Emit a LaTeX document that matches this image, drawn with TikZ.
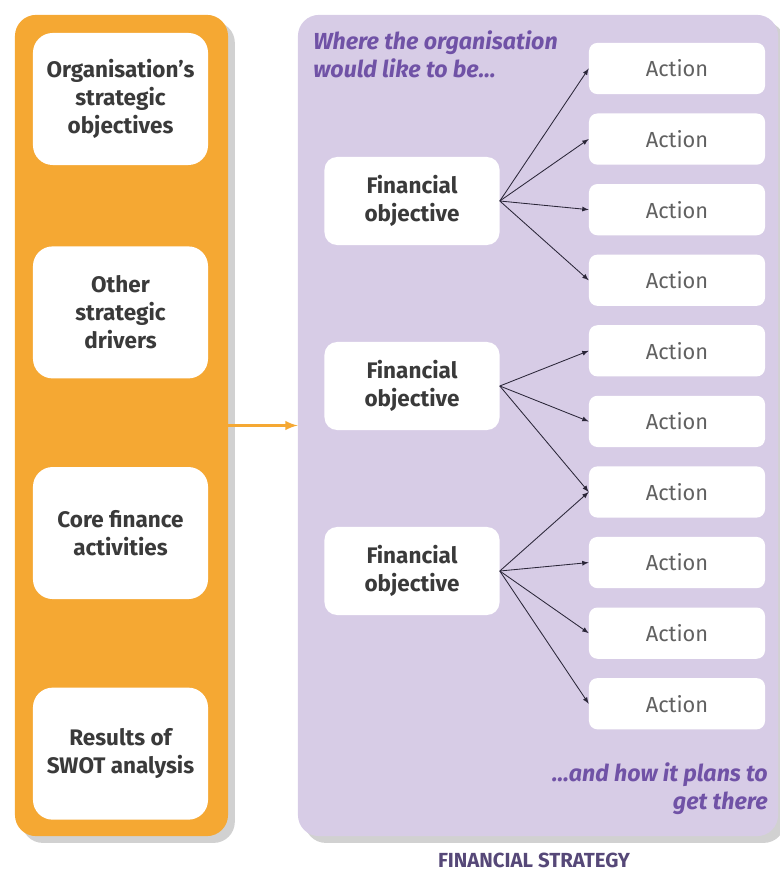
\documentclass[tikz,border=0pt]{standalone}
\usepackage{fontspec}
\setmainfont{Fira Sans}
\usetikzlibrary{positioning,shadows}

\definecolor{panelorange}{HTML}{F5A833}
\definecolor{panelpurple}{HTML}{D7CCE6}
\definecolor{notepurple}{HTML}{7052A6}
\definecolor{textgrey}{HTML}{3A3A3A}
\definecolor{linkgrey}{HTML}{2A2638}
\definecolor{titlepurple}{HTML}{564878}

\begin{document}
\begin{tikzpicture}[x=0.025cm,y=-0.025cm,
  panel/.style={inner sep=0pt,rounded corners=15pt,
    drop shadow={shadow xshift=0.17cm,shadow yshift=-0.17cm,opacity=0.18,fill=black}},
  inputbox/.style={fill=white,rounded corners=14pt,minimum width=4.375cm,minimum height=3.3cm,
    align=center,text=textgrey,font=\fontsize{16pt}{20pt}\selectfont\bfseries},
  objbox/.style={fill=white,rounded corners=9pt,minimum width=4.375cm,minimum height=2.2cm,
    align=center,text=textgrey,font=\fontsize{16pt}{20pt}\selectfont\bfseries},
  actbox/.style={fill=white,rounded corners=6pt,minimum width=4.4cm,minimum height=1.28cm,
    text=textgrey!80,font=\fontsize{15.5pt}{20pt}\selectfont},
  note/.style={text=notepurple,font=\fontsize{16.5pt}{20pt}\selectfont\bfseries\itshape,inner sep=0pt},
  link/.style={-latex,linkgrey,line width=0.6pt}]

  \useasboundingbox (0,0) rectangle (780,872);

  % the two panels
  \node[panel,fill=panelorange,minimum width=5.325cm,minimum height=20.525cm] (inputs) at (121.5,425.5) {};
  \node[panel,fill=panelpurple,minimum width=12cm,minimum height=20.525cm] (strategy) at (538,425.5) {};
  \draw[-latex,panelorange,line width=2pt] (inputs.east) -- (strategy.west);

  % inputs
  \node[inputbox] (orgobj) at (120.5,99) {Organisation’s\\strategic\\objectives};
  \node[inputbox,below=2.02cm of orgobj] (drivers) {Other\\strategic\\drivers};
  \node[inputbox,below=2.2cm of drivers] (core) {Core finance\\activities};
  \node[inputbox,below=2.2cm of core] (swot) {Results of\\SWOT analysis};

  % objectives
  \node[objbox] (obj1) at (412,201) {Financial\\objective};
  \node[objbox] (obj2) at (412,386) {Financial\\objective};
  \node[objbox] (obj3) at (412,571) {Financial\\objective};

  % actions
  \node[actbox] (act1) at (677,68.5) {Action};
  \node[actbox,below=0.47cm of act1] (act2) {Action};
  \node[actbox,below=0.47cm of act2] (act3) {Action};
  \node[actbox,below=0.47cm of act3] (act4) {Action};
  \node[actbox,below=0.47cm of act4] (act5) {Action};
  \node[actbox,below=0.47cm of act5] (act6) {Action};
  \node[actbox,below=0.47cm of act6] (act7) {Action};
  \node[actbox,below=0.47cm of act7] (act8) {Action};
  \node[actbox,below=0.47cm of act8] (act9) {Action};
  \node[actbox,below=0.47cm of act9] (act10) {Action};

  \draw[link] (obj1.east) -- (act1.west);
  \draw[link] (obj1.east) -- (act2.west);
  \draw[link] (obj1.east) -- (act3.west);
  \draw[link] (obj1.east) -- (act4.west);
  \draw[link] (obj2.east) -- (act5.west);
  \draw[link] (obj2.east) -- (act6.west);
  \draw[link] (obj2.east) -- (act7.west);
  \draw[link] (obj3.east) -- (act7.west);
  \draw[link] (obj3.east) -- (act8.west);
  \draw[link] (obj3.east) -- (act9.west);
  \draw[link] (obj3.east) -- (act10.west);

  \node[note,anchor=north west,align=left] (where) at (313,30) {Where the organisation\\would like to be\ldots};
  \node[note,anchor=south east,align=right] (how) at (768,815) {\ldots and how it plans to\\get there};
  \node[text=titlepurple,font=\fontsize{14.5pt}{16pt}\selectfont\bfseries] (title) at (534,860) {FINANCIAL STRATEGY};
\end{tikzpicture}
\end{document}
